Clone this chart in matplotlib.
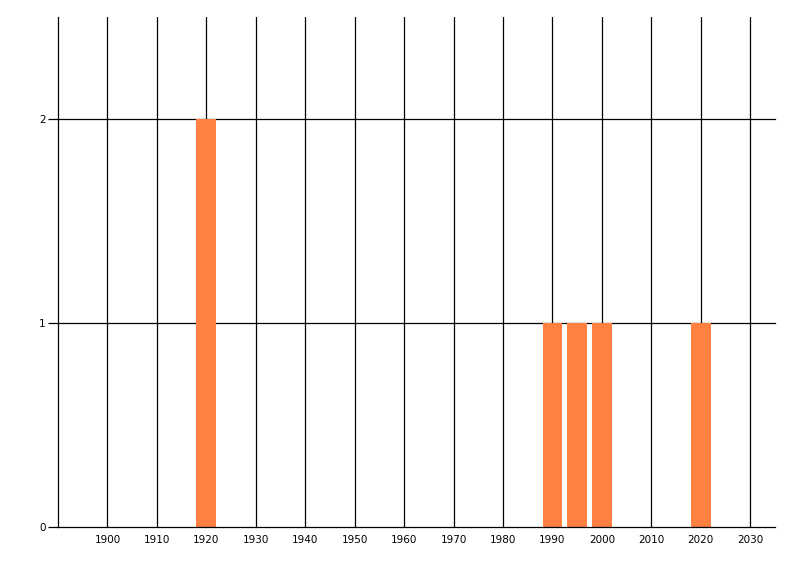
import matplotlib
matplotlib.use('Agg')
import matplotlib.pyplot as plt

years = [1920, 1990, 1995, 2000, 2020]
counts = [2, 1, 1, 1, 1]
x_ticks = list(range(1900, 2031, 10))
y_ticks = [0, 1, 2]

fig = plt.figure(figsize=(8, 5.76), dpi=100)
ax = fig.add_axes([58 / 800, 1 - 527 / 576, (775 - 58) / 800, (527 - 17) / 576])

for x in x_ticks:
    ax.axvline(x, color='black', linewidth=0.9, zorder=1)
for y in y_ticks[1:]:
    ax.axhline(y, color='black', linewidth=0.9, zorder=1, clip_on=False)

ax.bar(years, counts, width=4, color='#FF8040', zorder=2)

ax.set_xlim(1890, 2035)
ax.set_ylim(0, 2.5)
ax.set_xticks(x_ticks)
ax.set_yticks(y_ticks)
ax.tick_params(axis='x', length=0, pad=6, labelsize=7.5)
ax.tick_params(axis='y', length=7, width=0.9, pad=2, labelsize=7.5)

for s in ['top', 'right']:
    ax.spines[s].set_visible(False)
for s in ['left', 'bottom']:
    ax.spines[s].set_linewidth(0.9)
    ax.spines[s].set_zorder(3)

fig.savefig('out.png', dpi=100)
